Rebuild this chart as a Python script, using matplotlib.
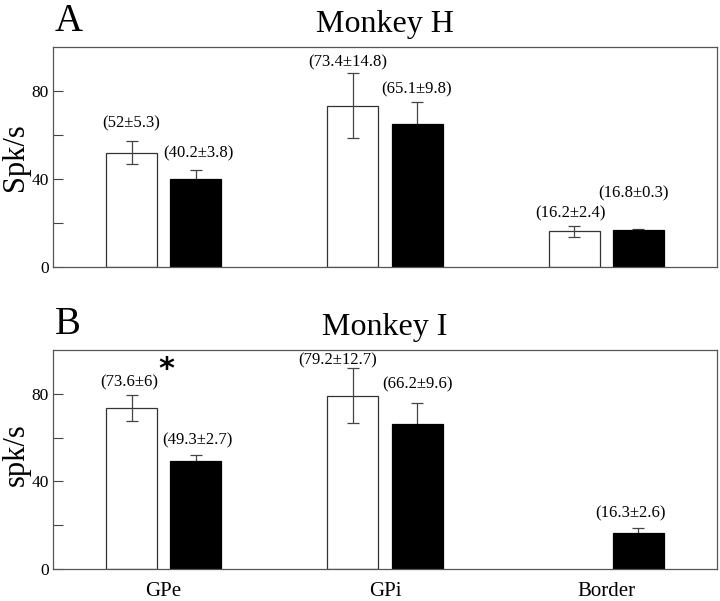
import numpy as np
import matplotlib
matplotlib.use("Agg")
import matplotlib.pyplot as plt
from matplotlib.ticker import FixedLocator

plt.rcParams['font.family'] = ['Liberation Serif', 'DejaVu Serif']

# data
regions = ['GPe', 'GPi', 'Border']
h_white = [52.0, 73.4, 16.2]
h_white_err = [5.3, 14.8, 2.4]
h_black = [40.2, 65.1, 16.8]
h_black_err = [3.8, 9.8, 0.3]
i_white = [73.6, 79.2, np.nan]
i_white_err = [6.0, 12.7, np.nan]
i_black = [49.3, 66.2, 16.3]
i_black_err = [2.7, 9.6, 2.6]

W, H = 720, 601
fig = plt.figure(figsize=(W / 100, H / 100), dpi=100)

x = np.arange(len(regions))
bw = 0.23
off = 0.145
edge = '#333333'


def fmt(v):
    return f"{v:g}"


def panel(rect, white, werr, black, berr, ylabel, label_y, title, letter,
          wlab_off, blab_off, show_x):
    ax = fig.add_axes(rect)
    ax.bar(x - off, white, bw, color='white', edgecolor=edge, linewidth=0.9, zorder=2)
    ax.errorbar(x - off, white, yerr=werr, fmt='none', ecolor='#444444',
                elinewidth=0.9, capsize=4, capthick=0.9, zorder=3)
    ax.errorbar(x + off, black, yerr=berr, fmt='none', ecolor='#444444',
                elinewidth=0.9, capsize=4, capthick=0.9, zorder=1)
    ax.bar(x + off, black, bw, color='black', edgecolor='black', linewidth=0.9, zorder=2)

    # value labels above each bar
    for i in range(len(regions)):
        if not np.isnan(white[i]):
            dx, dy = wlab_off[i]
            ax.annotate(f"({fmt(white[i])}±{fmt(werr[i])})", (x[i] - off, white[i] + werr[i]),
                        xytext=(dx, dy), textcoords='offset pixels',
                        ha='center', va='center', fontsize=12)
        dx, dy = blab_off[i]
        ax.annotate(f"({fmt(black[i])}±{fmt(berr[i])})", (x[i] + off, black[i] + berr[i]),
                    xytext=(dx, dy), textcoords='offset pixels',
                    ha='center', va='center', fontsize=12)

    ax.set_xlim(-0.5, 2.5)
    ax.set_ylim(0, 100)
    ax.set_yticks([0, 40, 80])
    ax.yaxis.set_minor_locator(FixedLocator([20, 60]))
    ax.tick_params(axis='y', which='both', direction='in', length=7, width=0.8,
                   color='#444444', labelsize=12.5, pad=3)
    if show_x:
        ax.set_xticks(x)
        ax.set_xticklabels(regions, fontsize=15)
        ax.tick_params(axis='x', length=0, pad=9)
    else:
        ax.set_xticks([])
    for s in ax.spines.values():
        s.set_color('#555555')
        s.set_linewidth(0.9)
    ax.set_ylabel(ylabel, fontsize=22)
    ax.yaxis.set_label_coords(-0.034, label_y)
    ax.set_title(title, fontsize=23, pad=11)
    top_px = (1 - rect[1] - rect[3]) * H
    fig.text(rect[0] + 0.002, 1 - (top_px - 16) / H, letter, fontsize=28,
             ha='left', va='baseline')
    return ax


axA = panel([53 / W, 1 - 267 / H, 664 / W, 220 / H],
            h_white, h_white_err, h_black, h_black_err, 'Spk/s', 0.5, 'Monkey H', 'A',
            [(0, 18), (-5, 11), (-4, 13)], [(3, 17), (-1, 13), (-5, 36)], False)
axB = panel([53 / W, 1 - 569 / H, 664 / W, 219 / H],
            i_white, i_white_err, i_black, i_black_err, 'spk/s', 0.52, 'Monkey I', 'B',
            [(-2, 12), (-15, 7), (0, 0)], [(2, 15), (0, 19), (-8, 14)], True)

# significance marker
axB.text(x[0] + 0.01, 91, '*', fontsize=22, fontweight='bold', family='DejaVu Sans',
         ha='center', va='center')

fig.savefig('out.png', dpi=100)
